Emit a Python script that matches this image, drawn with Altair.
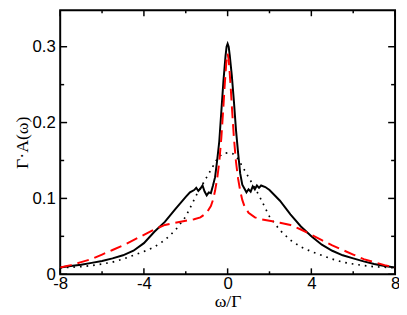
import altair as alt
import pandas as pd

# ---- data ----
w_solid = [-8, -7.5, -7, -6.5, -6, -5.5, -5, -4.5, -4, -3.5, -3, -2.5, -2, -1.8, -1.6, -1.5, -1.4,
           -1.3, -1.2, -1.1, -1.0, -0.9, -0.8, -0.7, -0.6, -0.5, -0.4, -0.3, -0.2, -0.1, -0.05, 0,
           0.05, 0.1, 0.2, 0.3, 0.4, 0.5, 0.6, 0.7, 0.8, 0.9, 1.0, 1.1, 1.2, 1.3, 1.4, 1.5, 1.6,
           1.8, 2.0, 2.5, 3.0, 3.5, 4.0, 4.5, 5.0, 5.5, 6.0, 6.5, 7.0, 7.5, 8.0]
a_solid = [0.009, 0.011, 0.0125, 0.015, 0.0175, 0.021, 0.025, 0.031, 0.041, 0.056, 0.069, 0.086,
           0.102, 0.108, 0.111, 0.114, 0.110, 0.113, 0.117, 0.109, 0.104, 0.108, 0.107, 0.117,
           0.128, 0.150, 0.175, 0.215, 0.255, 0.288, 0.300, 0.304,
           0.300, 0.289, 0.262, 0.228, 0.190, 0.160, 0.133, 0.118, 0.113, 0.108, 0.112, 0.109,
           0.116, 0.112, 0.117, 0.114, 0.117, 0.115, 0.111, 0.097, 0.079, 0.063, 0.050, 0.039,
           0.031, 0.025, 0.021, 0.017, 0.0135, 0.011, 0.009]

w_dash_half = [0, 0.05, 0.1, 0.15, 0.2, 0.3, 0.4, 0.5, 0.6, 0.7, 0.8, 1.0, 1.3, 1.6, 2.0, 2.5,
               3.0, 3.5, 4.0, 4.5, 5.0, 5.5, 6.0, 6.5, 7.0, 7.5, 8.0]
a_dash_half = [0.291, 0.283, 0.265, 0.245, 0.222, 0.180, 0.148, 0.126, 0.110, 0.098, 0.090,
               0.081, 0.075, 0.0725, 0.0705, 0.068, 0.065, 0.059, 0.052, 0.045, 0.038, 0.032,
               0.026, 0.020, 0.016, 0.012, 0.009]

w_dot_half = [0, 0.25, 0.5, 0.75, 1.0, 1.5, 2.0, 2.5, 3.0, 3.5, 4.0, 4.5, 5.0, 5.5, 6.0, 6.5,
              7.0, 7.5, 8.0]
a_dot_half = [0.160, 0.159, 0.152, 0.140, 0.128, 0.104, 0.076, 0.058, 0.045, 0.036, 0.030,
              0.025, 0.020, 0.016, 0.0135, 0.0115, 0.010, 0.0092, 0.0085]

x_major = [-8, -4, 0, 4, 8]
x_minor = [-6, -2, 2, 6]
y_major = [0, 0.1, 0.2, 0.3]
y_minor = [0.05, 0.15, 0.25]


def mirror(ws, vals):
    w = [-v for v in ws[:0:-1]] + list(ws)
    a = list(vals[:0:-1]) + list(vals)
    return pd.DataFrame({"w": w, "a": a})


df_solid = pd.DataFrame({"w": w_solid, "a": a_solid})
df_dash = mirror(w_dash_half, a_dash_half)
df_dot = mirror(w_dot_half, a_dot_half)

W, H = 340, 268
xs = alt.Scale(domain=[-8, 8], nice=False, zero=False)
ys = alt.Scale(domain=[0, 0.348], nice=False, zero=False)

xaxis = alt.Axis(values=x_major, ticks=False, tickSize=0, domain=False, grid=False,
                 labelExpr="(datum.value < 0 ? '-' : '') + format(abs(datum.value), 'd')",
                 labelFont="Liberation Sans", labelFontSize=17, labelColor="black",
                 labelPadding=1, labelFlush=False, labelOverlap=False,
                 title="ω/Γ", titleFont="Liberation Serif", titleFontSize=18,
                 titleFontWeight="normal", titleColor="black", titlePadding=2)
yaxis = alt.Axis(values=y_major, ticks=False, tickSize=0, domain=False, grid=False,
                 labelExpr="datum.value == 0 ? '0' : format(datum.value, '.1f')",
                 labelFont="Liberation Sans", labelFontSize=17, labelColor="black",
                 labelPadding=5, labelFlush=False, labelOverlap=False,
                 title="Γ·A(ω)", titleFont="Liberation Serif", titleFontSize=18,
                 titleFontWeight="normal", titleColor="black", titlePadding=1)

X = lambda f: alt.X(f, scale=xs, axis=xaxis)
Y = lambda f: alt.Y(f, scale=ys, axis=yaxis)

dot = alt.Chart(df_dot).mark_line(color="black", strokeWidth=1.7, strokeDash=[1.7, 5],
                                  clip=True).encode(x=X("w:Q"), y=Y("a:Q"))
solid = alt.Chart(df_solid).mark_line(color="black", strokeWidth=2, clip=True).encode(
    x=X("w:Q"), y=Y("a:Q"))
dash = alt.Chart(df_dash).mark_line(color="#ff0000", strokeWidth=2, strokeDash=[12, 6],
                                    clip=True).encode(x=X("w:Q"), y=Y("a:Q"))


def xticks(vals, ln):
    d = pd.DataFrame({"v": vals})
    b = alt.Chart(d).mark_rule(color="black", strokeWidth=1.5).encode(
        x=X("v:Q"), y=alt.value(H), y2=alt.value(H - ln))
    t = alt.Chart(d).mark_rule(color="black", strokeWidth=1.5).encode(
        x=X("v:Q"), y=alt.value(0), y2=alt.value(ln))
    return [b, t]


def yticks(vals, ln):
    d = pd.DataFrame({"v": vals})
    l = alt.Chart(d).mark_rule(color="black", strokeWidth=1.5).encode(
        y=Y("v:Q"), x=alt.value(0), x2=alt.value(ln))
    r = alt.Chart(d).mark_rule(color="black", strokeWidth=1.5).encode(
        y=Y("v:Q"), x=alt.value(W), x2=alt.value(W - ln))
    return [l, r]


layers = [dot, solid, dash] + xticks(x_major, 6) + xticks(x_minor, 3) + \
    yticks(y_major, 7) + yticks(y_minor, 4)

chart = alt.layer(*layers).properties(
    width=W, height=H,
    background="white",
    autosize=alt.AutoSizeParams(type="none"),
    padding={"left": 53, "top": 0, "right": 4, "bottom": 38},
).configure_view(stroke="black", strokeWidth=2)

chart.save("out.html", embed_options={"renderer": "svg", "actions": False})
